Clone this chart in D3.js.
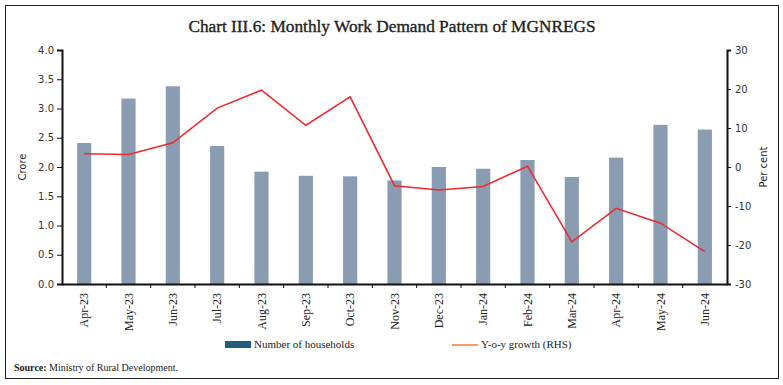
<html>
<head>
<meta charset="utf-8">
<title>Chart III.6</title>
<style>
  body { margin: 0; background: #fff; }
  svg text { fill: #222; }
  .ylab text { font-family: "DejaVu Sans", Verdana, sans-serif; font-size: 10px; fill: #333; }
  .xlab text { font-family: "Liberation Serif", "DejaVu Serif", serif; font-size: 12px; fill: #222; }
  .axis path, .axis line { stroke: #111; }
</style>
</head>
<body>
<script src="https://cdn.jsdelivr.net/npm/d3@7"></script>
<script>
var months = ["Apr-23","May-23","Jun-23","Jul-23","Aug-23","Sep-23","Oct-23","Nov-23",
              "Dec-23","Jan-24","Feb-24","Mar-24","Apr-24","May-24","Jun-24"];
var households = [2.41, 3.17, 3.38, 2.36, 1.92, 1.85, 1.84, 1.77,
                  2.00, 1.97, 2.12, 1.83, 2.16, 2.72, 2.64];
var growth = [3.4, 3.2, 6.2, 15.1, 19.7, 10.7, 18.0, -4.8,
              -5.9, -5.0, 0.2, -19.2, -10.6, -14.4, -21.7];
var leftTicks = [0, 0.5, 1.0, 1.5, 2.0, 2.5, 3.0, 3.5, 4.0];
var rightTicks = [-30, -20, -10, 0, 10, 20, 30];

var W = 783, H = 385;
var pLeft = 62, pRight = 727, pTop = 50, pBottom = 284;

var svg = d3.select("body").append("svg")
    .attr("width", W).attr("height", H);

// frame
svg.append("rect")
    .attr("x", 5.5).attr("y", 5.5)
    .attr("width", 773).attr("height", 373)
    .attr("fill", "none").attr("stroke", "#222").attr("stroke-width", 1);

svg.append("text")
    .attr("x", 392).attr("y", 32)
    .attr("text-anchor", "middle")
    .style("font-family", "'Liberation Serif', 'DejaVu Serif', serif")
    .style("font-size", "17.3px")
    .style("stroke", "#222").style("stroke-width", 0.35)
    .text("Chart III.6: Monthly Work Demand Pattern of MGNREGS");

var x = d3.scaleBand().domain(months).range([pLeft, pRight]).paddingInner(0.68).paddingOuter(0.34);
var xb = d3.scaleBand().domain(months).range([pLeft, pRight]);
var y = d3.scaleLinear().domain([0, 4]).range([pBottom, pTop]);
var y2 = d3.scaleLinear().domain([-30, 30]).range([pBottom, pTop]);

// bars
svg.append("g").selectAll("rect")
  .data(households)
  .enter().append("rect")
    .attr("x", function(d, i) { return x(months[i]); })
    .attr("width", x.bandwidth())
    .attr("y", function(d) { return y(d); })
    .attr("height", function(d) { return y(0) - y(d); })
    .attr("fill", "#8a9cb2");

// line
var line = d3.line()
    .x(function(d, i) { return xb(months[i]) + xb.bandwidth() / 2; })
    .y(function(d) { return y2(d); });
svg.append("path")
    .datum(growth)
    .attr("d", line)
    .attr("fill", "none")
    .attr("stroke", "#ee2a2f")
    .attr("stroke-width", 1.6);

// left axis
var ga = svg.append("g")
    .attr("class", "axis ylab")
    .attr("transform", "translate(" + pLeft + ",0)")
    .call(d3.axisLeft(y).tickValues(leftTicks).tickFormat(d3.format(".1f")).tickSize(5).tickPadding(3));
ga.select(".domain").attr("stroke-width", 2);

// right axis
var gr = svg.append("g")
    .attr("class", "axis ylab")
    .attr("transform", "translate(" + pRight + ",0)")
    .call(d3.axisRight(y2).tickValues(rightTicks)
      .tickFormat(function(d) { return String(d); })
      .tickSize(4).tickPadding(4));
gr.select(".domain").attr("stroke-width", 2);

// x axis
var gx = svg.append("g")
    .attr("class", "axis xlab")
    .attr("transform", "translate(0," + pBottom + ")")
    .call(d3.axisBottom(xb).tickSize(0).tickPadding(0));
gx.select(".domain").attr("stroke-width", 2);
gx.selectAll("text")
    .attr("transform", "rotate(-90)")
    .attr("text-anchor", "end")
    .attr("x", -9).attr("y", 0).attr("dy", "0.35em");
// separators between categories
gx.append("g").selectAll("line")
  .data(months.slice(1))
  .enter().append("line")
    .attr("x1", function(d) { return xb(d); })
    .attr("x2", function(d) { return xb(d); })
    .attr("y1", 0).attr("y2", 4)
    .attr("stroke", "#666");

// axis titles
svg.append("text")
    .attr("transform", "translate(26,167) rotate(-90)")
    .attr("text-anchor", "middle")
    .style("font-family", "'DejaVu Sans', sans-serif")
    .style("font-size", "10px")
    .text("Crore");
svg.append("text")
    .attr("transform", "translate(767,167) rotate(-90)")
    .attr("text-anchor", "middle")
    .style("font-family", "'DejaVu Sans', sans-serif")
    .style("font-size", "10px")
    .text("Per cent");

// legend
var lg = svg.append("g")
    .style("font-family", "'Liberation Serif', 'DejaVu Serif', serif")
    .style("font-size", "11px");
lg.append("rect").attr("x", 225).attr("y", 341).attr("width", 26).attr("height", 7).attr("fill", "#1f5f7d");
lg.append("text").attr("x", 254).attr("y", 348).text("Number of households");
lg.append("line").attr("x1", 452).attr("x2", 478).attr("y1", 345).attr("y2", 345)
    .attr("stroke", "#f07a3c").attr("stroke-width", 1.5);
lg.append("text").attr("x", 481).attr("y", 348).text("Y-o-y growth (RHS)");

// source
var src = svg.append("text")
    .attr("x", 14).attr("y", 371)
    .style("font-family", "'Liberation Serif', 'DejaVu Serif', serif")
    .style("font-size", "10px");
src.append("tspan").style("font-weight", "bold").text("Source:");
src.append("tspan").text(" Ministry of Rural Development.");
</script>
</body>
</html>
